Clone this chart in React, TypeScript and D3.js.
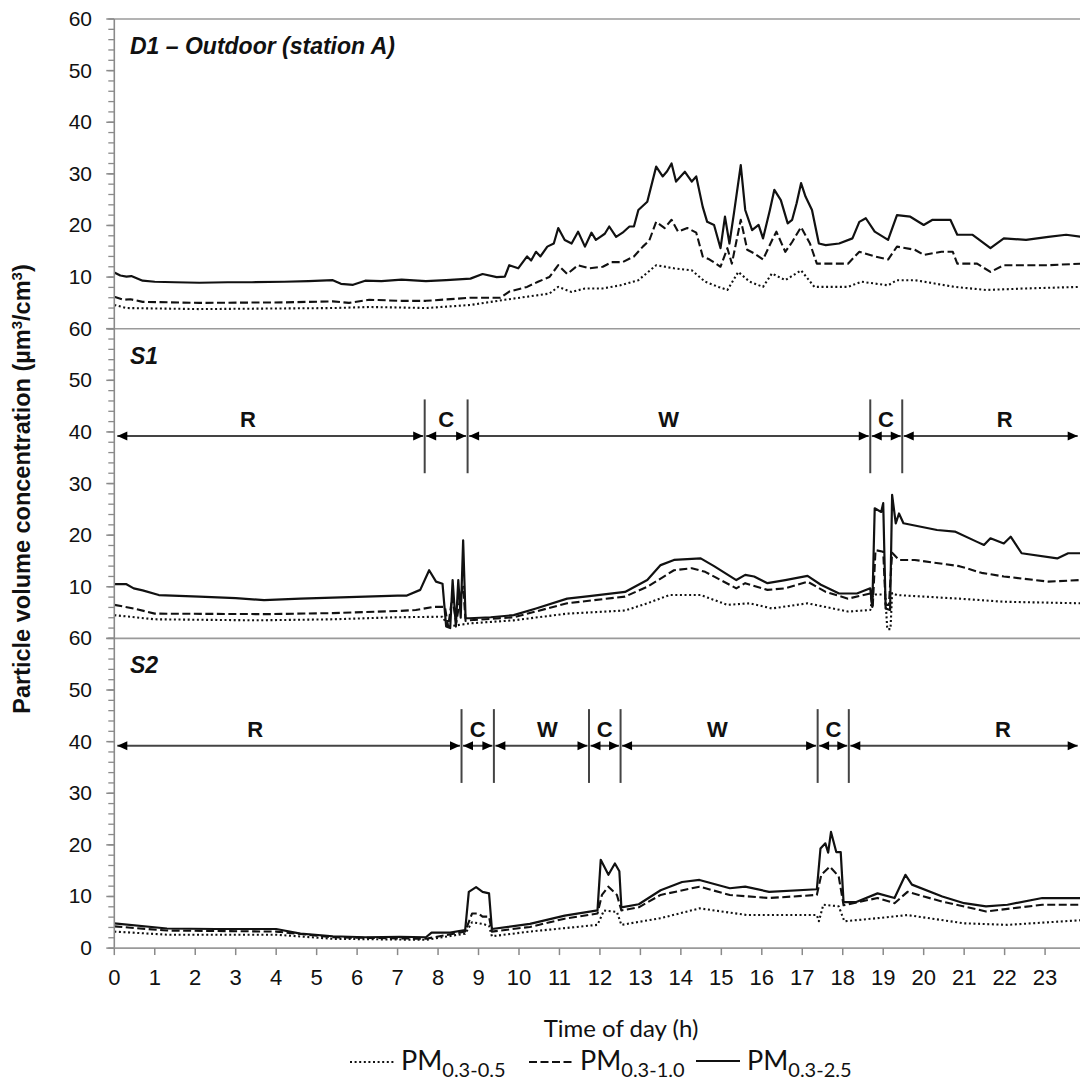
import React from 'react'
import * as d3 from 'd3'

// hour of day
const hourTicks = d3.range(0, 24)
const yMajor = [0, 10, 20, 30, 40, 50, 60]
const yMinor = d3.range(0, 61, 2)

const panelNames = ['D1 – Outdoor (station A)', 'S1', 'S2']
const seriesNames = ['PM0.3-0.5', 'PM0.3-1.0', 'PM0.3-2.5']
const seriesSubs = ['0.3-0.5', '0.3-1.0', '0.3-2.5']

// D1 outdoor [hour, µm3/cm3]
const d1Pm25 = [[0,10.9],[0.15,10.3],[0.3,10.1],[0.42,10.2],[0.7,9.3],[1.0,9.1],[1.5,9.0],[2.1,8.9],[2.8,9.0],[3.4,9.0],[4.2,9.1],[4.8,9.2],[5.4,9.4],[5.6,8.7],[5.9,8.5],[6.2,9.3],[6.6,9.2],[7.1,9.5],[7.7,9.2],[8.2,9.4],[8.8,9.7],[9.1,10.6],[9.45,10.0],[9.65,10.1],[9.76,12.3],[9.98,11.7],[10.2,14.0],[10.3,13.2],[10.42,14.9],[10.53,14.0],[10.7,15.9],[10.86,16.5],[10.97,19.5],[11.13,17.2],[11.3,16.5],[11.46,18.8],[11.63,15.9],[11.79,18.6],[11.9,17.2],[12.01,17.8],[12.12,18.4],[12.23,19.8],[12.4,17.8],[12.56,18.6],[12.73,19.8],[12.84,19.8],[12.95,23.0],[13.17,24.6],[13.39,31.4],[13.55,29.5],[13.66,30.5],[13.77,32.0],[13.88,28.5],[14.1,30.4],[14.27,28.5],[14.38,29.5],[14.54,23.6],[14.65,20.7],[14.82,20.1],[14.98,15.6],[15.09,21.7],[15.2,16.5],[15.31,22.3],[15.48,31.7],[15.59,23.0],[15.76,19.1],[15.92,20.1],[16.03,17.5],[16.2,23.0],[16.31,26.9],[16.47,24.9],[16.64,20.4],[16.75,21.1],[16.86,24.3],[16.97,28.2],[17.08,25.6],[17.24,23.0],[17.41,16.5],[17.58,16.2],[17.91,16.5],[18.24,17.5],[18.41,20.7],[18.57,21.4],[18.79,18.8],[19.12,17.2],[19.34,22.0],[19.67,21.7],[20.0,20.1],[20.22,21.1],[20.66,21.1],[20.83,18.2],[21.21,18.2],[21.65,15.6],[21.98,17.5],[22.53,17.2],[23.08,17.8],[23.52,18.2],[23.88,17.8]]
const d1Pm10 = [[0,6.2],[0.23,5.6],[0.4,5.7],[0.7,5.2],[2.1,5.0],[4.2,5.1],[5.4,5.3],[5.8,5.0],[6.3,5.6],[7.1,5.4],[7.7,5.4],[8.8,6.0],[9.54,6.0],[9.76,7.2],[10.2,8.1],[10.47,9.1],[10.75,10.0],[10.97,12.3],[11.19,10.6],[11.46,12.3],[11.74,11.7],[12.07,12.0],[12.29,12.9],[12.56,12.9],[12.84,14.0],[13.06,15.9],[13.22,17.1],[13.39,20.7],[13.6,19.5],[13.77,21.1],[13.93,18.8],[14.16,19.5],[14.38,18.6],[14.54,14.0],[14.71,13.4],[14.98,12.0],[15.15,15.6],[15.26,12.6],[15.48,21.1],[15.64,15.3],[15.81,14.6],[16.03,13.4],[16.25,17.1],[16.36,18.8],[16.58,14.9],[16.75,16.8],[16.97,19.7],[17.19,16.5],[17.36,12.6],[18.13,12.6],[18.41,14.9],[18.79,14.0],[19.12,13.4],[19.34,15.9],[19.78,15.3],[20.0,14.3],[20.44,14.9],[20.72,14.9],[20.83,12.6],[21.32,12.6],[21.65,11.0],[21.98,12.3],[23.08,12.3],[23.88,12.6]]
const d1Pm05 = [[0,4.6],[0.3,4.0],[2.1,3.8],[5.4,4.0],[6.3,4.2],[7.1,4.1],[7.7,4.0],[8.8,4.6],[9.65,5.6],[10.2,6.2],[10.75,6.8],[10.97,8.1],[11.3,7.1],[11.63,7.8],[12.07,7.8],[12.5,8.4],[12.95,9.4],[13.39,12.3],[13.83,11.7],[14.27,11.3],[14.6,9.1],[14.93,8.1],[15.15,7.5],[15.42,11.0],[15.7,9.1],[16.03,8.1],[16.25,10.7],[16.58,9.4],[16.97,11.3],[17.3,8.1],[18.13,8.1],[18.46,9.1],[19.12,8.4],[19.34,9.4],[19.78,9.4],[20.77,8.1],[21.54,7.5],[22.53,7.8],[23.88,8.1]]

// S1
const s1Pm25 = [[0,10.5],[0.3,10.5],[0.48,9.7],[0.7,9.3],[1.1,8.4],[2.1,8.1],[3.0,7.8],[3.7,7.4],[4.6,7.7],[5.4,7.9],[6.2,8.1],[7.0,8.3],[7.23,8.3],[7.56,9.4],[7.78,13.2],[7.95,11.0],[8.11,10.6],[8.2,2.3],[8.3,2.0],[8.36,11.3],[8.44,2.3],[8.5,11.3],[8.56,4.0],[8.62,19.0],[8.68,3.9],[8.77,3.9],[9.3,4.1],[9.87,4.5],[10.42,5.8],[11.19,7.7],[11.74,8.2],[12.62,9.0],[13.17,11.3],[13.5,14.2],[13.83,15.2],[14.49,15.5],[14.82,14.0],[15.37,11.3],[15.59,12.3],[15.81,12.0],[16.14,10.7],[16.58,11.3],[17.13,12.1],[17.46,10.4],[17.91,8.7],[18.35,8.7],[18.68,9.7],[18.73,6.1],[18.79,25.2],[18.95,24.5],[19.0,26.2],[19.06,5.8],[19.17,5.5],[19.22,27.8],[19.31,22.3],[19.39,24.2],[19.5,22.3],[20.33,21.0],[20.77,20.7],[21.32,18.7],[21.49,18.1],[21.65,19.4],[21.98,18.4],[22.15,19.7],[22.42,16.5],[23.3,15.5],[23.57,16.5],[23.88,16.5]]
const s1Pm10 = [[0,6.5],[0.48,5.8],[1.0,4.8],[3.8,4.7],[5.4,4.9],[7.0,5.3],[7.45,5.5],[7.89,6.1],[8.17,6.1],[8.25,2.3],[8.35,8.0],[8.45,3.0],[8.55,8.0],[8.62,10.0],[8.68,3.4],[8.77,3.5],[9.87,4.1],[11.19,6.8],[12.62,8.1],[13.17,10.0],[13.83,13.2],[14.27,13.6],[14.6,12.9],[15.37,9.7],[15.59,10.7],[16.14,9.4],[16.58,9.7],[17.13,11.0],[17.58,9.0],[18.13,7.7],[18.68,8.7],[18.74,6.0],[18.81,17.1],[19.0,16.8],[19.06,6.5],[19.14,6.5],[19.22,16.6],[19.28,16.1],[19.39,15.2],[19.78,15.2],[20.88,14.0],[21.43,12.7],[21.98,12.0],[23.08,11.0],[23.88,11.3]]
const s1Pm05 = [[0,4.5],[1.0,3.7],[3.5,3.5],[5.4,3.7],[7.0,4.1],[8.11,4.2],[8.25,2.3],[8.77,2.9],[9.87,3.5],[11.19,4.8],[12.62,5.4],[13.17,6.8],[13.72,8.4],[14.49,8.4],[15.15,6.5],[15.7,6.8],[16.25,5.8],[17.13,6.8],[18.13,5.2],[18.68,5.5],[18.75,8.5],[19.05,8.5],[19.1,1.8],[19.18,1.8],[19.22,8.8],[19.34,8.4],[20.88,7.7],[21.98,7.1],[23.88,6.8]]

// S2
const s2Pm25 = [[0,4.8],[1.3,3.8],[2.5,3.7],[4.0,3.7],[4.6,2.8],[5.4,2.3],[6.2,2.1],[7.06,2.2],[7.7,2.1],[7.84,3.0],[8.3,3.0],[8.67,3.5],[8.76,10.9],[8.94,11.8],[9.1,10.9],[9.26,10.6],[9.33,3.7],[10.27,4.7],[11.13,6.3],[11.94,7.3],[12.02,17.1],[12.21,14.2],[12.37,16.4],[12.48,14.9],[12.53,7.9],[12.96,8.5],[13.5,11.2],[14.03,12.8],[14.46,13.2],[15.21,11.6],[15.59,11.9],[16.18,10.9],[17.36,11.4],[17.45,19.3],[17.57,20.3],[17.64,18.5],[17.71,22.5],[17.84,18.6],[17.95,18.6],[18.02,8.9],[18.32,8.9],[18.86,10.6],[19.28,9.7],[19.55,14.2],[19.71,12.3],[20.46,10.0],[21.0,8.7],[21.54,8.1],[22.07,8.4],[22.93,9.7],[23.88,9.7]]
const s2Pm10 = [[0,4.2],[1.3,3.4],[4.0,3.2],[5.4,2.1],[7.7,1.8],[8.67,3.2],[8.84,6.7],[9.0,6.7],[9.1,6.1],[9.26,6.1],[9.33,3.2],[10.27,4.1],[11.13,5.7],[11.94,6.7],[12.05,10.3],[12.21,11.9],[12.42,10.3],[12.53,7.3],[12.96,7.9],[13.5,10.3],[14.46,11.9],[15.21,10.3],[16.18,9.7],[17.36,10.3],[17.47,14.2],[17.68,15.8],[17.9,13.9],[18.02,8.3],[18.86,9.7],[19.28,8.7],[19.6,10.9],[20.46,9.0],[21.54,7.1],[22.93,8.4],[23.88,8.4]]
const s2Pm05 = [[0,3.2],[1.3,2.6],[4.0,2.6],[5.4,1.8],[7.7,1.6],[8.67,2.8],[8.84,5.0],[9.1,4.7],[9.26,4.3],[9.33,2.3],[10.27,3.2],[11.94,4.5],[12.1,7.3],[12.42,7.0],[12.53,4.5],[13.5,5.8],[14.46,7.7],[15.64,6.4],[17.36,6.4],[17.41,5.2],[17.52,8.4],[17.9,8.1],[18.04,5.2],[18.86,5.8],[19.6,6.4],[21.0,4.8],[22.07,4.5],[23.88,5.4]]

// activity periods: hours where the period changes, labels and where each label sits
const s1Bounds = [7.67, 8.73, 18.68, 19.47]
const s1Labels = ['R', 'C', 'W', 'C', 'R']
const s1LabelAt = [3.3, 8.2, 13.7, 19.07, 22.0]
const s2Bounds = [8.58, 9.38, 11.73, 12.51, 17.38, 18.15]
const s2Labels = ['R', 'C', 'W', 'C', 'W', 'C', 'R']
const s2LabelAt = [3.48, 8.98, 10.7, 12.12, 14.9, 17.77, 21.96]

const W = 1080
const H = 1082
const panelTop = 19
const panelH = 309.7
const axisFont = '"Liberation Sans", Arial, sans-serif'
const legendFont = 'Lato, "Liberation Sans", sans-serif'

const dashes = ['2,2.6', '8,3.5', null]

function App() {
  const x = d3.scaleLinear().domain([0, 23.88]).range([114.3, 1080.7])
  const panels = [
    { name: panelNames[0], series: [d1Pm05, d1Pm10, d1Pm25], bounds: null, labels: null, at: null },
    { name: panelNames[1], series: [s1Pm05, s1Pm10, s1Pm25], bounds: s1Bounds, labels: s1Labels, at: s1LabelAt },
    { name: panelNames[2], series: [s2Pm05, s2Pm10, s2Pm25], bounds: s2Bounds, labels: s2Labels, at: s2LabelAt },
  ]
  const bottom = panelTop + panelH * 3

  const head = (tx, yy, dir) =>
    `M${tx},${yy}L${tx - dir * 10},${yy - 4.5}L${tx - dir * 10},${yy + 4.5}Z`

  return (
    <svg width={W} height={H} style={{ position: 'absolute', left: 0, top: 0, background: '#fff' }}>
      {panels.map((p, i) => {
        const top = panelTop + panelH * i
        const y = d3.scaleLinear().domain([0, 60]).range([top + panelH, top])
        const line = d3.line().x(d => x(d[0])).y(d => y(d[1]))
        const labelVals = i === 2 ? yMajor : yMajor.filter(v => v > 0)
        let segs = []
        if (p.bounds) {
          const edges = [0, ...p.bounds, 23.88]
          segs = p.labels.map((lab, k) => ({ lab, a: edges[k], b: edges[k + 1], at: p.at[k] }))
        }
        const ay = y(39.2)
        return (
          <g key={i}>
            <line x1={x(0)} x2={W} y1={top} y2={top} stroke="#9a9a9a" strokeWidth={1.6} />
            {yMinor.map(v => (
              <line key={'m' + v} x1={x(0) - 6} x2={x(0)} y1={y(v)} y2={y(v)} stroke="#8a8a8a" strokeWidth={1.3} />
            ))}
            {yMajor.map(v => (
              <line key={'M' + v} x1={x(0) - 8} x2={x(0)} y1={y(v)} y2={y(v)} stroke="#8a8a8a" strokeWidth={1.5} />
            ))}
            {labelVals.map(v => (
              <text key={'t' + v} x={92} y={y(v) + 7} textAnchor="end" fontFamily={axisFont} fontSize={21} fill="#111">{v}</text>
            ))}
            <text x={130} y={top + 35} fontFamily={axisFont} fontSize={23} fontWeight="bold" fontStyle="italic" fill="#111">{p.name}</text>
            {p.bounds && p.bounds.map((b, k) => (
              <line key={'b' + k} x1={x(b)} x2={x(b)} y1={y(46.3)} y2={y(32)} stroke="#444" strokeWidth={2} />
            ))}
            {segs.map((s, k) => {
              const xa = k === 0 ? x(s.a) + 3 : x(s.a) + 1.5
              const xb = k === segs.length - 1 ? x(s.b) - 3 : x(s.b) - 1.5
              return (
                <g key={'s' + k}>
                  <line x1={xa} x2={xb} y1={ay} y2={ay} stroke="#444" strokeWidth={2} />
                  <path d={head(xa, ay, -1)} fill="#000" />
                  <path d={head(xb, ay, 1)} fill="#000" />
                  <text x={x(s.at)} y={ay - 9} textAnchor="middle" fontFamily={axisFont} fontSize={22} fontWeight="bold" fill="#111">{s.lab}</text>
                </g>
              )
            })}
            {p.series.map((d, k) => (
              <path key={'l' + k} d={line(d)} fill="none" stroke="#111" strokeWidth={k === 2 ? 2.2 : 2.1}
                strokeDasharray={dashes[k] || undefined} strokeLinejoin="round" />
            ))}
          </g>
        )
      })}
      <line x1={x(0)} x2={x(0)} y1={panelTop} y2={bottom} stroke="#8a8a8a" strokeWidth={1.6} />
      <line x1={x(0)} x2={W} y1={bottom} y2={bottom} stroke="#9a9a9a" strokeWidth={1.6} />
      {hourTicks.map(h => (
        <g key={'h' + h}>
          <line x1={x(h)} x2={x(h)} y1={bottom} y2={bottom + 7} stroke="#8a8a8a" strokeWidth={1.5} />
          <text x={x(h)} y={985} textAnchor="middle" fontFamily={axisFont} fontSize={22} fill="#111">{h}</text>
        </g>
      ))}
      <text x={621} y={1037} textAnchor="middle" fontFamily={legendFont} fontSize={24} fill="#111">Time of day (h)</text>
      <text transform="translate(30,489) rotate(-90)" textAnchor="middle" fontFamily={axisFont} fontSize={23.5} fontWeight="bold" fill="#111">
        Particle volume concentration (µm<tspan dy={-8} fontSize={15}>3</tspan><tspan dy={8}>/cm</tspan><tspan dy={-8} fontSize={15}>3</tspan><tspan dy={8}>)</tspan>
      </text>
      {seriesNames.map((n, k) => {
        const x0 = [350, 529, 696][k]
        const ly = [1062, 1062, 1061][k]
        return (
          <g key={n}>
            <line x1={x0} x2={x0 + 44} y1={ly} y2={ly} stroke="#111" strokeWidth={2.2} strokeDasharray={dashes[k] || undefined} />
            <text x={x0 + 51} y={1070} fontFamily={legendFont} fontSize={27} fill="#111">
              PM<tspan dy={7} fontSize={20}>{seriesSubs[k]}</tspan>
            </text>
          </g>
        )
      })}
    </svg>
  )
}

export default App
